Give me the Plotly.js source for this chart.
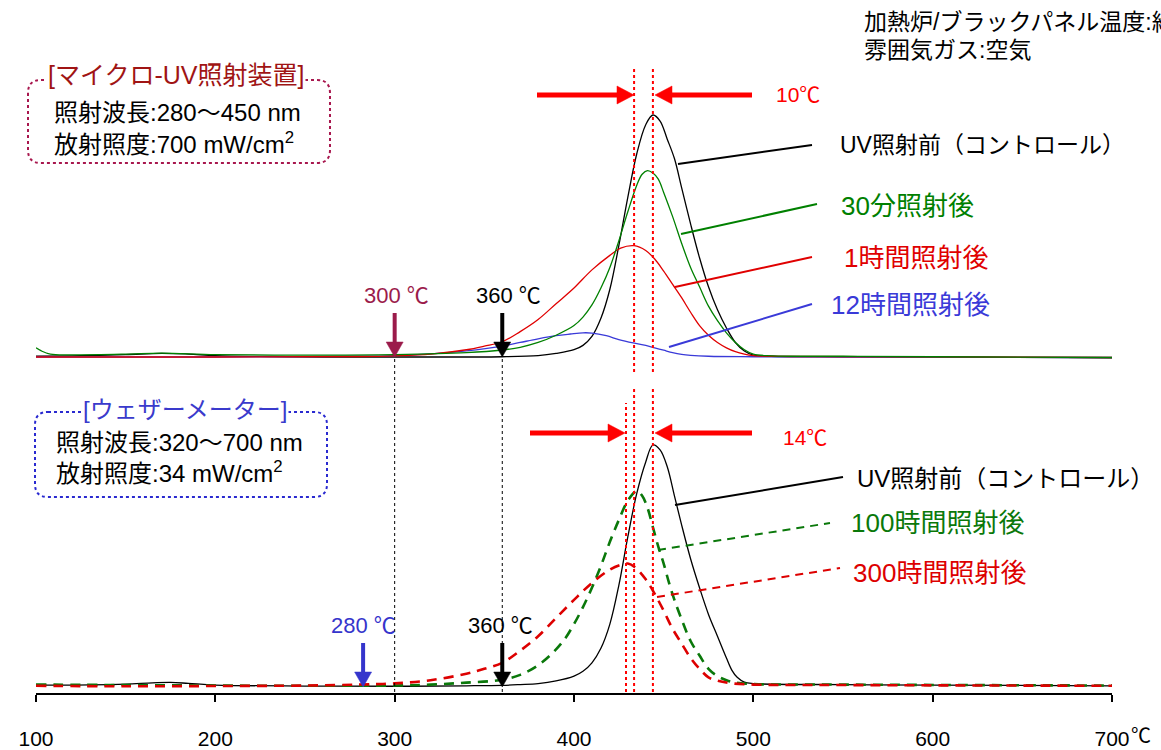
<!DOCTYPE html>
<html>
<head>
<meta charset="utf-8">
<script src="https://cdn.plot.ly/plotly-3.0.1.min.js"></script>
<style>html,body{margin:0;padding:0;background:#fff;}</style>
</head>
<body>
<div id="chart" style="width:1161px;height:750px;"></div>
<script>
// ---------------- DATA ----------------
// x axis ticks (temperature, °C)
const tickVals = [100, 200, 300, 400, 500, 600, 700];
const tickLabels = ['100', '200', '300', '400', '500', '600', '700'];

// Top panel: micro-UV irradiation
const topCtrlX = [100,120,150,170,185,200,230,260,300,340,360,380,390,400,405,410,415,420,425,430,435,440,444,448,452,456,460,465,470,475,480,485,490,495,500,510,550,600,700];
const topCtrlY = [0.3,0.5,1,1.5,1.2,0.6,0.2,0,0,0,0.1,0.6,1.5,3,4.8,8.5,16,28,46,66,84,96,100,97.5,90,82,70,55,41,29,19.5,12,6,2.5,0.8,0.3,0.1,0,-0.3];

const top30mX = [100,103,108,120,150,170,200,250,300,340,360,370,380,390,400,405,410,415,420,425,430,435,438,441,444,447,450,455,460,465,470,475,480,485,490,495,500,510,550,600,700];
const top30mY = [3.8,2.5,1.2,0.9,1.2,1.6,1,0.8,1,1.8,2.9,4,6,9,13,16.5,21.5,28.5,37,48,60,71,75.5,77,76,73.5,68,58,47,37,29,21,15,10,6,3,1.2,0.5,0.3,0.1,-0.2];

const top1hX = [100,200,280,300,320,340,350,360,370,380,390,400,410,420,426,433.5,440,445,450,455,460,465,470,475,480,485,490,495,500,520,700];
const top1hY = [0,0,0.2,0.5,1.2,3,4.5,6.3,10.5,15.5,22,28.5,36,42,45,46,44,40.5,35.5,30,24.5,18.5,13,9,6,3.8,2.2,1.2,0.6,0.2,-0.2];

const top12hX = [100,200,280,300,320,340,360,370,380,390,398,405,410,418,425,433,440,445,450,455,460,465,475,500,700];
const top12hY = [0,0,0.3,0.6,1.3,2.5,4.5,6,7.5,8.8,9.5,10,9.9,8.8,7.2,5.8,4.8,3.8,2.8,1.8,1.1,0.7,0.3,0.1,-0.2];

// Bottom panel: weather-meter
const botCtrlX = [100,130,150,165,175,185,200,250,300,340,360,370,380,390,400,405,410,415,420,425,430,435,440,444,448,452,456,460,465,470,475,480,485,488,491,495,500,550,600,700];
const botCtrlY = [0.8,0.9,1.2,1.7,1.9,1.5,0.8,0.4,0.3,0.5,0.7,1,1.4,2.5,4.5,6.5,10,16,26,42,62,80,93,100,98,91,79,67,53,41,30,21,12,7,4,2,1.4,1,0.8,0.5];

const bot100hX = [100,150,200,250,300,320,340,360,370,380,388,395,400,405,410,415,420,425,430,435,438,441,444,447,450,453,456,460,465,470,475,480,485,490,500,550,700];
const bot100hY = [1,0.8,0.6,0.5,0.6,1,1.8,3,5,9,14,20,26,33,41,50,60,69,77,81,79,74,66,58,51,43,36,28,19,13,7.5,4.5,2.8,1.8,1.2,1,0.6];

const bot300hX = [100,150,200,250,280,300,320,340,350,360,370,380,390,400,410,420,426,430,434,440,445,450,455,460,465,470,475,480,487,500,550,700];
const bot300hY = [0.5,0.3,0.4,0.6,1,1.5,2.8,5.5,7.5,10,15,21,28.5,36,43,48.5,50.5,51,49.5,44.5,38.5,31.5,24,18,12,7.5,4,2.6,1.6,1,0.8,0.5];

// Marker temperatures
const topOnsetTemps = [300, 360];
const botOnsetTemps = [282.4, 360];
const topPeakLines = [433.5, 444];
const botPeakLines = [429, 433.5, 444];

// Labels
const topSeriesNames = ['UV照射前（コントロール）', '30分照射後', '1時間照射後', '12時間照射後'];
const botSeriesNames = ['UV照射前（コントロール）', '100時間照射後', '300時間照射後'];

// ---------------- LAYOUT HELPERS ----------------
const L = 36, R = 1112, B = 693, W = 1161, H = 750;
const PW = R - L, PH = B;           // plot area width/height in px (top margin 0)
const X = px => (px - L) / PW;      // pixel -> paper x
const Y = py => (B - py) / PH;      // pixel -> paper y
const T2P = t => L + (t - 100) * PW / 600;  // temperature -> pixel x
const PXU = 2.42;                   // px per intensity unit
const botRange = [-(B - 687) / PXU, -(B - 687) / PXU + PH / PXU];
const topRange = [-(B - 357) / PXU, -(B - 357) / PXU + PH / PXU];

const FAM = "'Liberation Sans', Arial, 'Noto Sans CJK JP', sans-serif";
const C = {
  black: '#000000', green: '#008000', red: '#e00000', blue: '#3a3ad8',
  dgreen: '#0a780a', dred: '#dd0000', maroon: '#9b1b4b', navy: '#3535cc',
  arrowRed: '#ff0000', boxRed: '#a8174e', boxBlue: '#2a2ad0', titleRed: '#a01414', titleBlue: '#3a3acc'
};

const P = (px, py) => X(px).toFixed(5) + ',' + Y(py).toFixed(5);
function roundRect(x0, y0, x1, y1, r) {
  return 'M' + P(x0 + r, y0) + ' L' + P(x1 - r, y0) + ' Q' + P(x1, y0) + ' ' + P(x1, y0 + r) +
    ' L' + P(x1, y1 - r) + ' Q' + P(x1, y1) + ' ' + P(x1 - r, y1) +
    ' L' + P(x0 + r, y1) + ' Q' + P(x0, y1) + ' ' + P(x0, y1 - r) +
    ' L' + P(x0, y0 + r) + ' Q' + P(x0, y0) + ' ' + P(x0 + r, y0) + ' Z';
}

// ---------------- TRACES ----------------
const traces = [
  {x: topCtrlX, y: topCtrlY, yaxis: 'y2', mode: 'lines', line: {color: C.black, width: 1.3, shape: 'spline'}, name: topSeriesNames[0]},
  {x: top12hX, y: top12hY, yaxis: 'y2', mode: 'lines', line: {color: C.blue, width: 1.3, shape: 'spline'}, name: topSeriesNames[3]},
  {x: top1hX, y: top1hY, yaxis: 'y2', mode: 'lines', line: {color: C.red, width: 1.3, shape: 'spline'}, name: topSeriesNames[2]},
  {x: top30mX, y: top30mY, yaxis: 'y2', mode: 'lines', line: {color: C.green, width: 1.3, shape: 'spline'}, name: topSeriesNames[1]},
  {x: botCtrlX, y: botCtrlY, yaxis: 'y', mode: 'lines', line: {color: C.black, width: 1.3, shape: 'spline'}, name: botSeriesNames[0]},
  {x: bot100hX, y: bot100hY, yaxis: 'y', mode: 'lines', line: {color: C.dgreen, width: 2.6, dash: '10px,7px', shape: 'spline'}, name: botSeriesNames[1]},
  {x: bot300hX, y: bot300hY, yaxis: 'y', mode: 'lines', line: {color: C.dred, width: 2.6, dash: '10px,7px', shape: 'spline'}, name: botSeriesNames[2]}
];

// ---------------- SHAPES ----------------
const shapes = [];
topPeakLines.forEach(t => shapes.push({type: 'line', xref: 'x', yref: 'paper', x0: t, x1: t, y0: Y(372), y1: Y(67), line: {color: C.arrowRed, width: 2, dash: 'dot'}}));
botPeakLines.forEach((t, i) => shapes.push({type: 'line', xref: 'x', yref: 'paper', x0: t, x1: t, y0: Y(692), y1: Y(i === 0 ? 403 : 388), line: {color: C.arrowRed, width: 2, dash: 'dot'}}));
[300, 360].forEach(t => shapes.push({type: 'line', xref: 'x', yref: 'paper', x0: t, x1: t, y0: Y(692), y1: Y(357), line: {color: '#000', width: 1, dash: 'dot'}}));
shapes.push({type: 'path', xref: 'paper', yref: 'paper', path: roundRect(28, 80, 330, 163, 13), line: {color: C.boxRed, width: 2, dash: 'dot'}});
shapes.push({type: 'path', xref: 'paper', yref: 'paper', path: roundRect(35, 412, 327, 497, 13), line: {color: C.boxBlue, width: 2, dash: 'dot'}});
// leader lines
const lead = (x0, y0, x1, y1, color, dash) => shapes.push({type: 'line', xref: 'paper', yref: 'paper', x0: X(x0), y0: Y(y0), x1: X(x1), y1: Y(y1), line: {color, width: 2, dash: dash || 'solid'}});
lead(678, 164, 812, 145, C.black);
lead(681, 234, 817, 204, C.green);
lead(675, 287, 812, 257, C.red);
lead(669, 347, 812, 304, C.blue);
lead(675, 505, 843, 477, C.black);
lead(658, 550, 830, 523, C.dgreen, '8px,6px');
lead(657, 597, 840, 568, C.dred, '8px,6px');

// arrows drawn as shaft + filled triangular head
function hArrow(tailPx, headPx, py, color) {
  const dir = Math.sign(headPx - tailPx), hl = 17, hw = 9;
  const base = headPx - dir * hl;
  shapes.push({type: 'line', xref: 'paper', yref: 'paper', x0: X(tailPx), y0: Y(py), x1: X(base + dir), y1: Y(py), line: {color, width: 5}});
  shapes.push({type: 'path', xref: 'paper', yref: 'paper', path: 'M' + P(headPx, py) + ' L' + P(base, py - hw) + ' L' + P(base, py + hw) + ' Z', fillcolor: color, line: {color, width: 0.5}});
}
function vArrow(t, tailPy, headPy, color) {
  const px = T2P(t), hl = 15, hw = 8.5, base = headPy - hl;
  shapes.push({type: 'line', xref: 'paper', yref: 'paper', x0: X(px), y0: Y(tailPy), x1: X(px), y1: Y(base + 1), line: {color, width: 4}});
  shapes.push({type: 'path', xref: 'paper', yref: 'paper', path: 'M' + P(px, headPy) + ' L' + P(px - hw, base) + ' L' + P(px + hw, base) + ' Z', fillcolor: color, line: {color, width: 0.5}});
}
hArrow(537, 634, 95, C.arrowRed); hArrow(752, 655, 95, C.arrowRed);
hArrow(530, 625, 433, C.arrowRed); hArrow(752, 655, 433, C.arrowRed);
vArrow(topOnsetTemps[0], 313, 357, C.maroon);
vArrow(topOnsetTemps[1], 313, 357, C.black);
vArrow(botOnsetTemps[0], 643, 687, C.navy);
vArrow(botOnsetTemps[1], 643, 687, C.black);

// ---------------- ANNOTATIONS ----------------
const ann = [];
const txt = (px, py, text, color, size, anchor, extra) => ann.push(Object.assign({
  xref: 'paper', yref: 'paper', x: X(px), y: Y(py), text, showarrow: false,
  xanchor: anchor || 'center', yanchor: 'middle', font: {family: FAM, size, color}
}, extra || {}));

txt(798, 95, '10℃', C.arrowRed, 21);
txt(805, 437, '14℃', C.arrowRed, 21);

txt(396, 295, '300 ℃', C.maroon, 22);
txt(508, 295, '360 ℃', C.black, 22);
txt(363, 625, '280 ℃', C.navy, 22);
txt(500, 625, '360 ℃', C.black, 22);

txt(176, 75, '[マイクロ-UV照射装置]', C.titleRed, 25, 'center', {bgcolor: '#ffffff'});
txt(52, 113, '照射波長:280〜450 nm', C.black, 24, 'left');
txt(52, 143, '放射照度:700 mW/cm<sup>2</sup>', C.black, 24, 'left');
txt(185, 409, '[ウェザーメーター]', C.titleBlue, 24, 'center', {bgcolor: '#ffffff'});
txt(54, 443, '照射波長:320〜700 nm', C.black, 24, 'left');
txt(54, 472, '放射照度:34 mW/cm<sup>2</sup>', C.black, 24, 'left');

txt(862, 22, '加熱炉/ブラックパネル温度:約', C.black, 23, 'left');
txt(862, 50, '雰囲気ガス:空気', C.black, 23, 'left');

txt(838, 145, topSeriesNames[0], C.black, 23, 'left');
txt(839, 206, topSeriesNames[1], C.green, 26, 'left');
txt(842, 258, topSeriesNames[2], C.red, 26, 'left');
txt(829, 305, topSeriesNames[3], C.blue, 26, 'left');
txt(855, 478, botSeriesNames[0], C.black, 24, 'left');
txt(849, 523, botSeriesNames[1], C.dgreen, 26, 'left');
txt(851, 573, botSeriesNames[2], C.dred, 26, 'left');

txt(1129, 736, '℃', C.black, 20, 'left');

// ---------------- LAYOUT ----------------
const layout = {
  width: W, height: H,
  margin: {l: L, r: W - R, t: 0, b: H - B, pad: 0},
  paper_bgcolor: '#ffffff', plot_bgcolor: '#ffffff',
  showlegend: false,
  font: {family: FAM, color: '#000'},
  xaxis: {
    range: [100, 700], tickvals: tickVals, ticktext: tickLabels,
    ticks: 'outside', ticklen: 7, tickwidth: 2, tickcolor: '#000',
    showline: true, linewidth: 2, linecolor: '#000', mirror: false,
    showgrid: false, zeroline: false, fixedrange: true,
    tickfont: {family: FAM, size: 21, color: '#000'}, ticklabelstandoff: 19
  },
  yaxis: {range: botRange, visible: false, fixedrange: true, showgrid: false, zeroline: false},
  yaxis2: {range: topRange, overlaying: 'y', visible: false, fixedrange: true, showgrid: false, zeroline: false},
  shapes, annotations: ann
};

Plotly.newPlot('chart', traces, layout, {displayModeBar: false, staticPlot: true});
</script>
</body>
</html>
